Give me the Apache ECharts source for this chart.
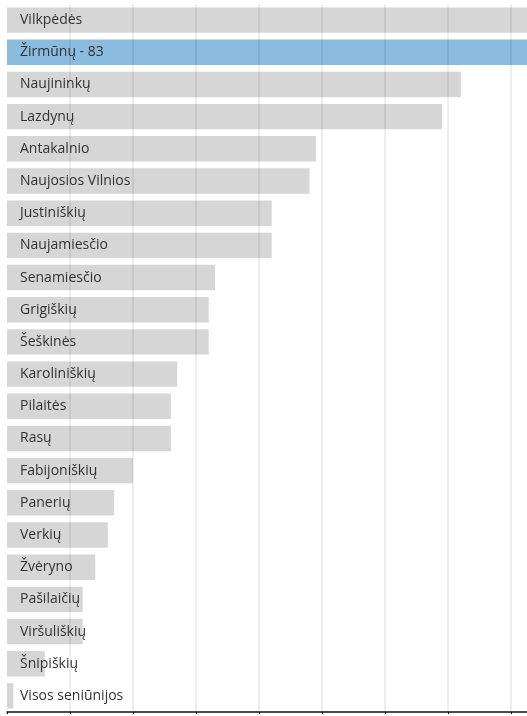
<!DOCTYPE html>
<html>
<head>
<meta charset="utf-8">
<script src="https://cdn.jsdelivr.net/npm/echarts@6/dist/echarts.min.js"></script>
<style>
html,body{margin:0;padding:0;background:#fff;}
#chart{width:527px;height:716px;}
</style>
</head>
<body>
<div id="chart"></div>
<script>
const categories = ["Vilkpėdės","Žirmūnų","Naujininkų","Lazdynų","Antakalnio","Naujosios Vilnios","Justiniškių","Naujamiesčio","Senamiesčio","Grigiškių","Šeškinės","Karoliniškių","Pilaitės","Rasų","Fabijoniškių","Panerių","Verkių","Žvėryno","Pašilaičių","Viršuliškių","Šnipiškių","Visos seniūnijos"];
const values = [86,83,72,69,49,48,42,42,33,32,32,27,26,26,20,17,16,14,12,12,6,1];
const highlighted = "Žirmūnų";
const xTicks = {min:0, max:82.5, interval:10};

const chart = echarts.init(document.getElementById('chart'));
const data = categories.map((c,i)=>({
  name:c, value:values[i],
  itemStyle:{color: c===highlighted ? '#89bcdf' : '#d6d6d6'}
}));
chart.setOption({
  animation:false,
  grid:{left:7, right:0, top:4, bottom:4, containLabel:false},
  xAxis:{
    type:'value', min:xTicks.min, max:xTicks.max, interval:xTicks.interval,
    z:3,
    axisLabel:{show:false},
    axisLine:{show:true, lineStyle:{color:'#111', width:1.5}},
    axisTick:{show:true, length:2, lineStyle:{color:'#111'}},
    splitLine:{show:true, showMinLine:false, showMaxLine:false, lineStyle:{color:'rgba(0,0,0,0.09)', width:1.5}}
  },
  yAxis:{
    type:'category', data:categories, inverse:true,
    axisLine:{show:false}, axisTick:{show:false}, axisLabel:{show:false}, splitLine:{show:false}
  },
  series:[{
    type:'bar', data:data, barCategoryGap:'21%',
    label:{
      show:true, position:'insideLeft', distance:13,
      color:'#333', fontSize:14, fontFamily:'Open Sans',
      formatter:(p)=> p.name===highlighted ? p.name+' - '+p.value : p.name
    }
  }]
});
</script>
</body>
</html>
